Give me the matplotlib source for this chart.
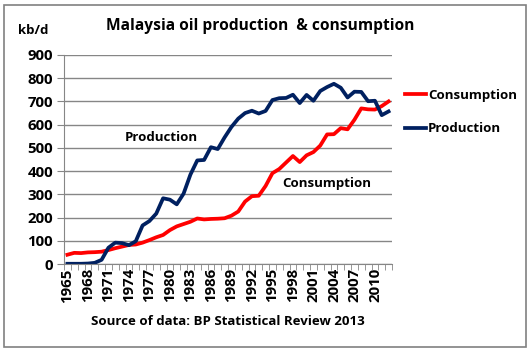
import numpy as np
from matplotlib import pyplot as plt
from matplotlib.patches import Rectangle

years = list(range(1965, 2013))
consumption = [40, 48, 47, 50, 51, 53, 60, 68, 75, 82, 84, 92, 103, 115, 125,
               146, 162, 172, 182, 196, 192, 194, 195, 197, 208, 226, 269, 292,
               294, 336, 391, 409, 437, 465, 439, 468, 482, 510, 558, 559, 585,
               580, 621, 670, 666, 665, 680, 700]
production = [1, 1, 1, 2, 5, 18, 70, 92, 90, 81, 98, 166, 185, 217, 283,
              277, 257, 303, 385, 446, 448, 503, 495, 545, 590, 626, 650, 660,
              648, 659, 706, 714, 715, 729, 693, 728, 703, 745, 762, 776, 759,
              717, 742, 741, 701, 703, 641, 657]
yticks = list(range(0, 901, 100))

red = '#ff0000'
navy = '#002060'
grid_col = '#868686'
font = 'Open Sans'
fs = 9.5
tick_fs = 10.8
plt.rcParams['font.family'] = [font, 'DejaVu Sans']
plt.rcParams['font.weight'] = 'bold'

fig = plt.figure(figsize=(5.31, 3.52), dpi=100)
fig.patches.append(Rectangle((4 / 531, 5 / 352), 522 / 531, 342 / 352,
                             transform=fig.transFigure, fill=False,
                             edgecolor='#808080', linewidth=1.2))
ax = fig.add_axes([64 / 531, 0.25, 328 / 531, 209 / 352])

x = np.arange(len(years))
ax.plot(x, consumption, color=red, lw=2.7, label='Consumption',
        solid_joinstyle='round')
ax.plot(x, production, color=navy, lw=2.7, label='Production',
        solid_joinstyle='round')

ax.set_xlim(-0.5, len(years) - 0.5)
ax.set_ylim(0, 900)
ax.set_yticks(yticks)
ax.set_yticklabels([str(v) for v in yticks], fontsize=tick_fs,
                   fontweight='bold')
ax.yaxis.grid(True, color=grid_col, lw=1)
ax.set_axisbelow(True)

ax.set_xticks(x[::3])
ax.set_xticklabels([str(y) for y in years[::3]], rotation=90,
                   fontsize=tick_fs, fontweight='bold')
ax.set_xticks(np.arange(-0.5, len(years)), minor=True)
ax.tick_params(axis='x', which='major', length=0, pad=3)
ax.tick_params(axis='x', which='minor', length=4, color=grid_col)
ax.tick_params(axis='y', length=5, color=grid_col, pad=3)

for s in ['top', 'right']:
    ax.spines[s].set_visible(False)
for s in ['left', 'bottom']:
    ax.spines[s].set_color(grid_col)

ax.set_xlabel('Source of data: BP Statistical Review 2013', fontsize=fs,
              fontweight='bold', labelpad=9)

fig.text(260 / 531, 1 - 26 / 352, 'Malaysia oil production  & consumption',
         ha='center', va='center', fontsize=11.2, fontweight='bold')
fig.text(33 / 531, 1 - 31 / 352, 'kb/d', ha='center', va='center',
         fontsize=fs, fontweight='bold')

ax.text(13.8, 545, 'Production', fontsize=fs, fontweight='bold',
        ha='center', va='center')
ax.text(38, 345, 'Consumption', fontsize=fs, fontweight='bold',
        ha='center', va='center')

fig.legend(loc='upper left', bbox_to_anchor=(393 / 531, 1 - 77 / 352),
           frameon=False, handlelength=1.6, handletextpad=0.15,
           labelspacing=1.55, prop={'size': fs, 'weight': 'bold'})

fig.savefig('out.png', dpi=100)
